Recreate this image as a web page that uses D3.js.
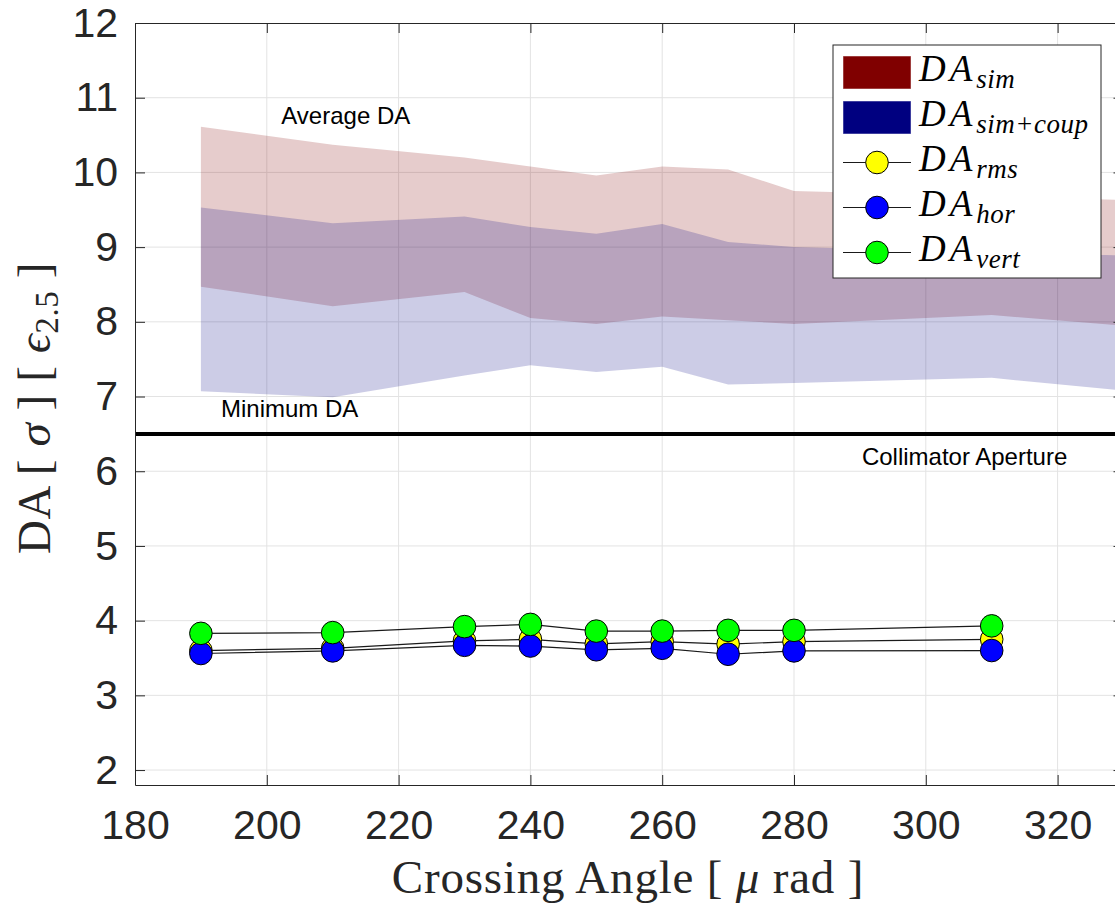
<!DOCTYPE html>
<html>
<head>
<meta charset="utf-8">
<script src="https://cdn.jsdelivr.net/npm/d3@7"></script>
<style>
  body { margin: 0; background: #fff; }
  svg { display: block; }
</style>
</head>
<body>
<svg id="chart" width="1115" height="905"></svg>
<script>
// Crossing angles with measured dynamic aperture
const crossingAngles = [190, 210, 230, 240, 250, 260, 270, 280, 310];
const daRms  = [3.60, 3.63, 3.73, 3.75, 3.69, 3.72, 3.685, 3.72, 3.75];
const daHor  = [3.56, 3.595, 3.67, 3.66, 3.61, 3.63, 3.55, 3.595, 3.60];
const daVert = [3.83, 3.84, 3.92, 3.95, 3.86, 3.86, 3.87, 3.87, 3.93];

// Simulated DA bands (average DA on top, minimum DA at the bottom)
const simAngles  = [190, 210, 230, 240, 250, 260, 270, 280, 310, 330];
const simUpper   = [10.61, 10.37, 10.20, 10.08, 9.96, 10.08, 10.04, 9.75, 9.68, 9.63];
const simLower   = [8.47, 8.21, 8.40, 8.05, 7.97, 8.07, 8.02, 7.97, 8.09, 7.95];
const coupUpper  = [9.53, 9.32, 9.41, 9.27, 9.18, 9.31, 9.07, 9.00, 8.93, 8.89];
const coupLower  = [7.07, 6.99, 7.28, 7.42, 7.33, 7.40, 7.16, 7.18, 7.25, 7.08];

const collimatorAperture = 6.5;

const xTickValues = [180, 200, 220, 240, 260, 280, 300, 320];
const yTickValues = [2, 3, 4, 5, 6, 7, 8, 9, 10, 11, 12];

const svg = d3.select("#chart");
const plotLeft = 135, plotTop = 23, plotRight = 1123.5, plotBottom = 785;

const x = d3.scaleLinear().domain([180, 330]).range([plotLeft, plotRight]);
const y = d3.scaleLinear().domain([1.8, 12]).range([plotBottom, plotTop]);

const sansFont = "'Liberation Sans', Arial, Helvetica, sans-serif";
const serifFont = "'Liberation Serif', 'Times New Roman', serif";
const axisColor = "#262626";

svg.append("defs").append("clipPath").attr("id", "plot-clip")
  .append("rect").attr("x", plotLeft).attr("y", plotTop)
  .attr("width", plotRight - plotLeft).attr("height", plotBottom - plotTop);

// Grid
const grid = svg.append("g").attr("stroke", "#e3e3e3").attr("stroke-width", 1);
grid.selectAll("line.gx").data(xTickValues.slice(1)).join("line")
  .attr("x1", d => x(d)).attr("x2", d => x(d)).attr("y1", plotTop).attr("y2", plotBottom);
grid.selectAll("line.gy").data(yTickValues.slice(0, -1)).join("line")
  .attr("y1", d => y(d)).attr("y2", d => y(d)).attr("x1", plotLeft).attr("x2", plotRight);

const plot = svg.append("g").attr("clip-path", "url(#plot-clip)");

// Bands
const band = (upper, lower) => d3.area()
  .x((d, i) => x(simAngles[i]))
  .y0((d, i) => y(lower[i]))
  .y1((d, i) => y(upper[i]));

plot.append("path").datum(simAngles)
  .attr("d", band(simUpper, simLower))
  .attr("fill", "#800000").attr("fill-opacity", 0.2);
plot.append("path").datum(simAngles)
  .attr("d", band(coupUpper, coupLower))
  .attr("fill", "#000080").attr("fill-opacity", 0.2);

// Collimator aperture
plot.append("line")
  .attr("x1", plotLeft).attr("x2", plotRight)
  .attr("y1", y(collimatorAperture)).attr("y2", y(collimatorAperture))
  .attr("stroke", "#000").attr("stroke-width", 4);

// Measured series
const seriesList = [
  { values: daRms,  color: "#ffff00" },
  { values: daHor,  color: "#0000ff" },
  { values: daVert, color: "#00ff00" }
];
const seriesLine = d3.line().x((d, i) => x(crossingAngles[i])).y(d => y(d));
seriesList.forEach(s => {
  const g = plot.append("g");
  g.append("path").datum(s.values).attr("d", seriesLine)
    .attr("fill", "none").attr("stroke", "#1a1a1a").attr("stroke-width", 1.2);
  g.selectAll("circle").data(s.values).join("circle")
    .attr("cx", (d, i) => x(crossingAngles[i])).attr("cy", d => y(d))
    .attr("r", 11.3).attr("fill", s.color).attr("stroke", "#000").attr("stroke-width", 1);
});

// Annotations
const notes = [
  { text: "Average DA", x: 202.2, y: 10.65 },
  { text: "Minimum DA", x: 193.05, y: 6.72 },
  { text: "Collimator Aperture", x: 290.3, y: 6.09 }
];
svg.selectAll("text.note").data(notes).join("text").attr("class", "note")
  .attr("x", d => x(d.x)).attr("y", d => y(d.y))
  .attr("font-family", sansFont).attr("font-size", 24).attr("fill", "#000")
  .text(d => d.text);

// Axes
const styleAxis = g => {
  g.select(".domain").attr("stroke", axisColor).attr("stroke-width", 1);
  g.selectAll(".tick line").attr("stroke", axisColor).attr("stroke-width", 1);
  g.selectAll(".tick text").attr("fill", axisColor).attr("font-family", sansFont).attr("font-size", 41);
};
svg.append("g").attr("transform", `translate(0,${plotBottom})`)
  .call(d3.axisBottom(x).tickValues(xTickValues).tickSize(-10).tickSizeOuter(0).tickPadding(25).tickFormat(d3.format("d")))
  .call(styleAxis);
svg.append("g").attr("transform", `translate(0,${plotTop})`)
  .call(d3.axisTop(x).tickValues(xTickValues).tickSize(-10).tickSizeOuter(0).tickFormat(""))
  .call(styleAxis);
svg.append("g").attr("transform", `translate(${plotLeft},0)`)
  .call(d3.axisLeft(y).tickValues(yTickValues).tickSize(-10).tickSizeOuter(0).tickPadding(17).tickFormat(d3.format("d")))
  .call(styleAxis);
svg.append("g").attr("transform", `translate(${plotRight},0)`)
  .call(d3.axisRight(y).tickValues(yTickValues).tickSize(-10).tickSizeOuter(0).tickFormat(""))
  .call(styleAxis);

// Axis titles
const xTitle = svg.append("text")
  .attr("x", 628).attr("y", 893).attr("text-anchor", "middle")
  .attr("font-family", serifFont).attr("font-size", 47).attr("letter-spacing", 0.8)
  .attr("fill", axisColor);
xTitle.append("tspan").text("Crossing Angle [ ");
xTitle.append("tspan").attr("font-style", "italic").text("μ");
xTitle.append("tspan").text(" rad ]");

const yTitle = svg.append("text")
  .attr("transform", "translate(50,408) rotate(-90)").attr("text-anchor", "middle")
  .attr("font-family", serifFont).attr("font-size", 47).attr("letter-spacing", 0.6)
  .attr("fill", axisColor);
yTitle.append("tspan").text("DA [ ");
yTitle.append("tspan").attr("font-style", "italic").text("σ");
yTitle.append("tspan").text(" ] [ ");
yTitle.append("tspan").attr("font-style", "italic").text("ϵ");
yTitle.append("tspan").attr("font-size", 33).attr("dy", 8).text("2.5");
yTitle.append("tspan").attr("dy", -8).text(" ]");

// Legend
const legendItems = [
  { sub: "sim", kind: "patch", color: "#800000" },
  { sub: "sim+coup", kind: "patch", color: "#000080" },
  { sub: "rms", kind: "marker", color: "#ffff00" },
  { sub: "hor", kind: "marker", color: "#0000ff" },
  { sub: "vert", kind: "marker", color: "#00ff00" }
];
const legend = svg.append("g");
legend.append("rect").attr("x", 833).attr("y", 45).attr("width", 268).attr("height", 233)
  .attr("fill", "#fff").attr("stroke", axisColor).attr("stroke-width", 1);
legendItems.forEach((item, i) => {
  const cy = 72.5 + i * 45;
  if (item.kind === "patch") {
    legend.append("rect").attr("x", 843.5).attr("y", cy - 16).attr("width", 67).attr("height", 32)
      .attr("fill", item.color).attr("stroke", item.color).attr("stroke-opacity", 0.5);
  } else {
    legend.append("line").attr("x1", 843).attr("x2", 911).attr("y1", cy).attr("y2", cy)
      .attr("stroke", "#1a1a1a").attr("stroke-width", 1.2);
    legend.append("circle").attr("cx", 877).attr("cy", cy).attr("r", 11.3)
      .attr("fill", item.color).attr("stroke", "#000").attr("stroke-width", 1);
  }
  const t = legend.append("text").attr("x", 919).attr("y", cy + 8)
    .attr("font-family", serifFont).attr("font-style", "italic").attr("fill", "#000");
  t.append("tspan").attr("font-size", 37).attr("letter-spacing", 4).text("DA");
  t.append("tspan").attr("font-size", 27).attr("letter-spacing", 0.5).attr("dy", 7).text(item.sub);
});
</script>
</body>
</html>
